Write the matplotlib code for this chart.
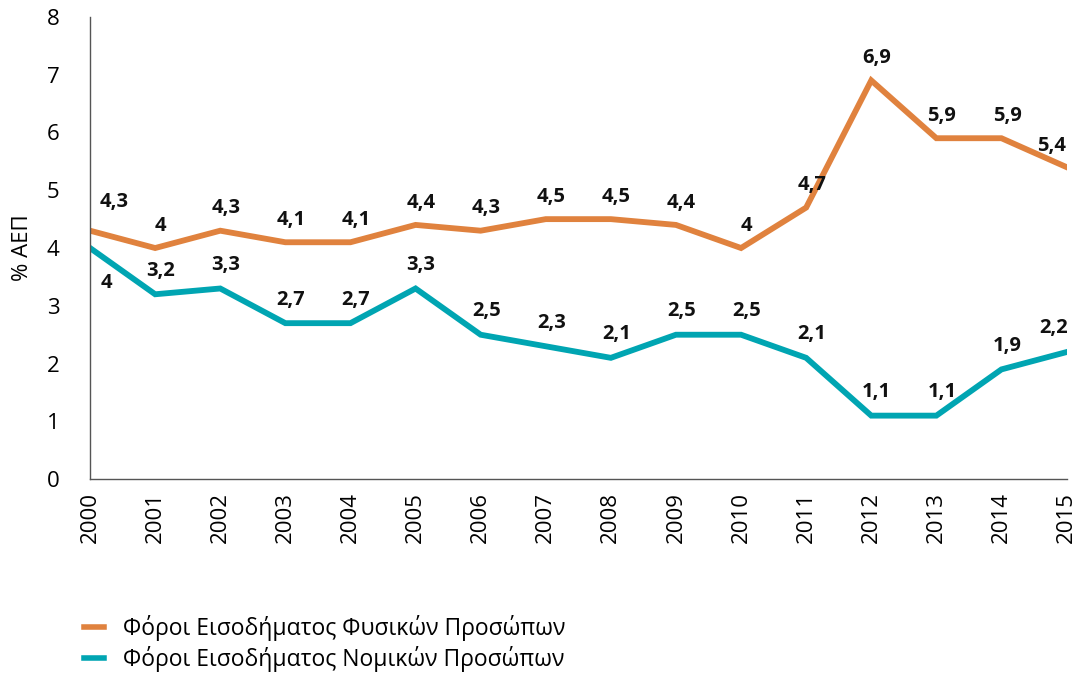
import matplotlib
matplotlib.use("Agg")
import matplotlib.pyplot as plt

years = list(range(2000, 2016))
fysika = [4.3, 4.0, 4.3, 4.1, 4.1, 4.4, 4.3, 4.5, 4.5, 4.4, 4.0, 4.7, 6.9, 5.9, 5.9, 5.4]
nomika = [4.0, 3.2, 3.3, 2.7, 2.7, 3.3, 2.5, 2.3, 2.1, 2.5, 2.5, 2.1, 1.1, 1.1, 1.9, 2.2]
series_names = ["Φόροι Εισοδήματος Φυσικών Προσώπων",
                "Φόροι Εισοδήματος Νομικών Προσώπων"]

ORANGE = "#E0823E"
TEAL = "#00A5B2"

plt.rcParams["font.family"] = ["Open Sans", "DejaVu Sans"]

fig = plt.figure(figsize=(10.85, 6.74), dpi=100)
ax = fig.add_axes([0.083, 0.289, 0.900, 0.686])

ax.plot(years, fysika, color=ORANGE, lw=4.2, solid_joinstyle="miter", label=series_names[0])
ax.plot(years, nomika, color=TEAL, lw=4.2, solid_joinstyle="miter", label=series_names[1])


def fmt(v):
    s = f"{v:.1f}".replace(".", ",")
    return s[:-2] if s.endswith(",0") else s


# value labels, mostly centred above each point
for i, (x, v) in enumerate(zip(years, fysika)):
    off = (4, 16)
    if i == 0:
        off = (17, 21)
    elif i == len(years) - 1:
        off = (-11, 15)
    ax.annotate(fmt(v), (x, v), xytext=off, textcoords="offset points",
                ha="center", va="center", fontsize=14.5, fontweight="bold", color="#111111")

for i, (x, v) in enumerate(zip(years, nomika)):
    off = (4, 17)
    if i == 0:
        off = (12, -25)
    elif i == len(years) - 1:
        off = (-9, 17)
    ax.annotate(fmt(v), (x, v), xytext=off, textcoords="offset points",
                ha="center", va="center", fontsize=14.5, fontweight="bold", color="#111111")

ax.set_xlim(2000, 2015)
ax.set_ylim(0, 8)
ax.set_xticks(years)
ax.set_xticklabels([str(y) for y in years], rotation=90, fontsize=16)
ax.set_yticks(range(0, 9))
ax.tick_params(axis="y", labelsize=16, length=0, pad=22)
ax.tick_params(axis="x", length=0, pad=9)
for side in ("top", "right"):
    ax.spines[side].set_visible(False)
for side in ("left", "bottom"):
    ax.spines[side].set_color("#555555")
    ax.spines[side].set_linewidth(1.0)

ax.set_ylabel("% ΑΕΠ", fontsize=16, labelpad=10)

leg = fig.legend(loc="center left", bbox_to_anchor=(0.058, 0.045),
                 frameon=False, fontsize=16.5,
                 handlelength=0.9, handletextpad=0.8, labelspacing=0.2)
for line in leg.get_lines():
    line.set_linewidth(4.0)

fig.savefig("out.png", dpi=100)
